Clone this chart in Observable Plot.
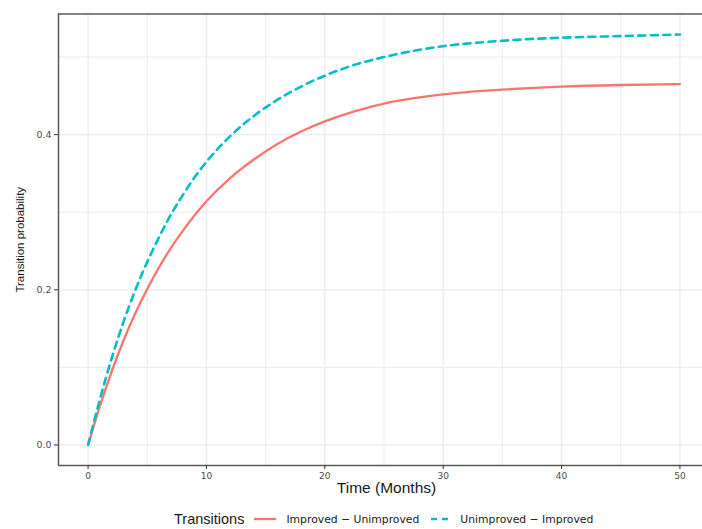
<!DOCTYPE html>
<html>
<head>
<meta charset="utf-8">
<script src="https://cdn.jsdelivr.net/npm/d3@7"></script>
<script src="https://cdn.jsdelivr.net/npm/@observablehq/plot@0.6"></script>
<style>
  html, body { margin: 0; padding: 0; background: #fff; }
  #wrap { position: relative; width: 702px; height: 529px; overflow: hidden; }
  #legend { position: absolute; left: 174px; top: 509px; height: 20px; display: flex; align-items: center; white-space: nowrap; }
  #legend .title { font-family: "Liberation Sans", Arial, sans-serif; font-size: 14.5px; color: #1a1a1a; margin-right: 10px; }
  #legend .lab { font-family: "DejaVu Sans", sans-serif; font-size: 10.8px; color: #1a1a1a; }
  #legend svg { display: block; }
</style>
</head>
<body>
<div id="wrap">
  <div id="chart"></div>
  <div id="legend"></div>
</div>
<script>
// ---- data ----
const months = [0, 1, 2, 3, 4, 5, 6, 7, 8, 9, 10, 12, 14, 16, 18, 20, 22.5, 25, 27.5, 30, 35, 40, 45, 50];
const improvedUnimproved = [0, 0.050, 0.095, 0.135, 0.170, 0.201, 0.229, 0.254, 0.276, 0.296, 0.314, 0.344, 0.368, 0.388, 0.404, 0.417, 0.430, 0.440, 0.447, 0.452, 0.458, 0.462, 0.464, 0.465];
const unimprovedImproved = [0, 0.059, 0.112, 0.159, 0.200, 0.236, 0.268, 0.297, 0.322, 0.345, 0.365, 0.398, 0.424, 0.445, 0.462, 0.476, 0.490, 0.500, 0.508, 0.514, 0.521, 0.525, 0.527, 0.529];
const seriesNames = ["Improved \u2212 Unimproved", "Unimproved \u2212 Improved"];
const seriesColors = ["#F8766D", "#00BFC4"];
const xMajor = [0, 10, 20, 30, 40, 50];
const xMinor = [5, 15, 25, 35, 45];
const yMajor = [0, 0.2, 0.4];
const yMinor = [0.1, 0.3, 0.5];
const xTitle = "Time (Months)";
const yTitle = "Transition probability";
const legendTitle = "Transitions";

const rowsA = months.map((m, i) => ({month: m, p: improvedUnimproved[i]}));
const rowsB = months.map((m, i) => ({month: m, p: unimprovedImproved[i]}));

const xDomain = [-2.5, 52.5];
const yDomain = [-0.0265, 0.5555];
const gridColor = "#ebebeb";
const borderColor = "#5a5a5a";

const chart = Plot.plot({
  width: 702,
  height: 500,
  marginLeft: 58,
  marginRight: 0,
  marginTop: 13.5,
  marginBottom: 35,
  style: {fontFamily: "DejaVu Sans, sans-serif", fontSize: "9px", background: "#fff"},
  x: {domain: xDomain, range: [58, 709]},
  y: {domain: yDomain, range: [465, 13.5]},
  marks: [
    Plot.gridX({ticks: xMinor, stroke: gridColor, strokeOpacity: 1, strokeWidth: 1}),
    Plot.gridY({ticks: yMinor, stroke: gridColor, strokeOpacity: 1, strokeWidth: 1}),
    Plot.gridX({ticks: xMajor, stroke: gridColor, strokeOpacity: 1, strokeWidth: 1.3}),
    Plot.gridY({ticks: yMajor, stroke: gridColor, strokeOpacity: 1, strokeWidth: 1.3}),
    Plot.line(rowsA, {x: "month", y: "p", stroke: seriesColors[0], strokeWidth: 2.3, curve: "monotone-x"}),
    Plot.line(rowsB, {x: "month", y: "p", stroke: seriesColors[1], strokeWidth: 2.6, strokeDasharray: "7,5.5", curve: "monotone-x"}),
    Plot.ruleX([xDomain[0]], {stroke: borderColor, strokeWidth: 1.5}),
    Plot.ruleY([yDomain[0], yDomain[1]], {stroke: borderColor, strokeWidth: 1.5}),
    Plot.axisX({ticks: xMajor, tickSize: 4, tickPadding: 3, fontSize: 9, fill: "#4d4d4d", stroke: "#333", label: null}),
    Plot.axisY({ticks: yMajor, tickFormat: d3.format(".1f"), tickSize: 4, tickPadding: 3, fontSize: 9.5, fill: "#4d4d4d", stroke: "#333", label: null}),
    Plot.text([xTitle], {text: d => d, frameAnchor: "bottom", textAnchor: "middle", lineAnchor: "middle", dx: 6, dy: 23, fontSize: 15.5, fontFamily: "Liberation Sans, Arial, sans-serif", fill: "#1a1a1a"}),
    Plot.text([yTitle], {text: d => d, frameAnchor: "left", textAnchor: "middle", lineAnchor: "middle", dx: -38, rotate: -90, fontSize: 11.5, fontFamily: "Liberation Sans, Arial, sans-serif", fill: "#1a1a1a"})
  ]
});
document.getElementById("chart").appendChild(chart);

// ---- legend ----
const legend = document.getElementById("legend");
const t = document.createElement("span");
t.className = "title";
t.textContent = legendTitle;
legend.appendChild(t);
const ns = "http://www.w3.org/2000/svg";
seriesNames.forEach((name, i) => {
  const s = document.createElementNS(ns, "svg");
  const w = i === 0 ? 22 : 18;
  s.setAttribute("width", w);
  s.setAttribute("height", 10);
  s.style.marginRight = i === 0 ? "10px" : "11px";
  s.style.marginLeft = i === 0 ? "0px" : "12px";
  const l = document.createElementNS(ns, "line");
  l.setAttribute("x1", 0); l.setAttribute("x2", w);
  l.setAttribute("y1", 5); l.setAttribute("y2", 5);
  l.setAttribute("stroke", seriesColors[i]);
  l.setAttribute("stroke-width", i === 0 ? 2.3 : 2.6);
  if (i === 1) l.setAttribute("stroke-dasharray", "6,5");
  s.appendChild(l);
  legend.appendChild(s);
  const lab = document.createElement("span");
  lab.className = "lab";
  lab.textContent = name;
  legend.appendChild(lab);
});
</script>
</body>
</html>
